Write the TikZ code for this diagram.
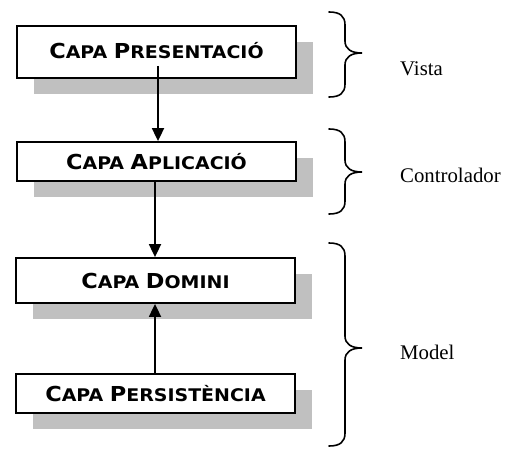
\documentclass[tikz,border=0pt]{standalone}
\usepackage{fontspec}
\setmainfont{Liberation Serif}
\newfontfamily\boxfont[FakeStretch=1.09]{DejaVu Sans Bold}
\usetikzlibrary{arrows.meta,shadows}
\definecolor{shgray}{RGB}{192,192,192}
\newcommand{\initcap}[1]{{\fontsize{20.6}{24}\selectfont #1}}
\newcommand{\mybrace}[3]{%
  \draw[bracestyle] (329,#1) .. controls (340,#1) and (345,#1+4) .. (345,#1+13)
    -- (345,#3-12) .. controls (345,#3-4) and (351,#3) .. (362,#3)
    .. controls (351,#3) and (345,#3+4) .. (345,#3+12)
    -- (345,#2-13) .. controls (345,#2-4) and (340,#2) .. (329,#2);}
\begin{document}
\begin{tikzpicture}[x=1pt,y=-1pt,
  layer/.style={draw=black, line width=1.8pt, fill=white, minimum width=279pt,
    inner sep=0pt, font=\boxfont\fontsize{17.4}{20}\selectfont,
    drop shadow={shadow xshift=16.5pt, shadow yshift=-16pt, fill=shgray, opacity=1}},
  arr/.style={line width=1.8pt, -{Triangle[width=12pt,length=13pt]}},
  bracestyle/.style={line width=1.6pt, line cap=round},
  lbl/.style={anchor=base west, inner sep=0pt, font=\fontsize{20.8}{25}\selectfont}]
\useasboundingbox (0,0) rectangle (506,452);
\node[layer, minimum height=52pt] (pres) at (156.5,52) {\raisebox{4pt}{\initcap{C}APA \initcap{P}RESENTACIÓ}};
\node[layer, minimum height=39pt] (apl) at (156.5,161.5) {\initcap{C}APA \initcap{A}PLICACIÓ};
\node[layer, minimum height=45pt] (dom) at (155.5,280.5) {\initcap{C}APA \initcap{D}OMINI};
\node[layer, minimum height=39pt] (pers) at (155.5,393.5) {\initcap{C}APA \initcap{P}ERSISTÈNCIA};
\mybrace{12}{97}{53}
\mybrace{129}{214}{172}
\mybrace{243}{446}{348}
\draw[arr] ([xshift=-1.5pt]apl.south) -- ([xshift=-0.5pt]dom.north);
\draw[arr] ([xshift=-0.5pt]pers.north) -- ([xshift=-0.5pt]dom.south);
\draw[arr] ([xshift=1.5pt]pres.south) ++(0,-13) -- ([xshift=1.5pt]apl.north);
\node[lbl] (vista) at (400,76) {Vista};
\node[lbl] (ctrl) at (400,182) {Controlador};
\node[lbl] (model) at (400,359) {Model};
\end{tikzpicture}
\end{document}
